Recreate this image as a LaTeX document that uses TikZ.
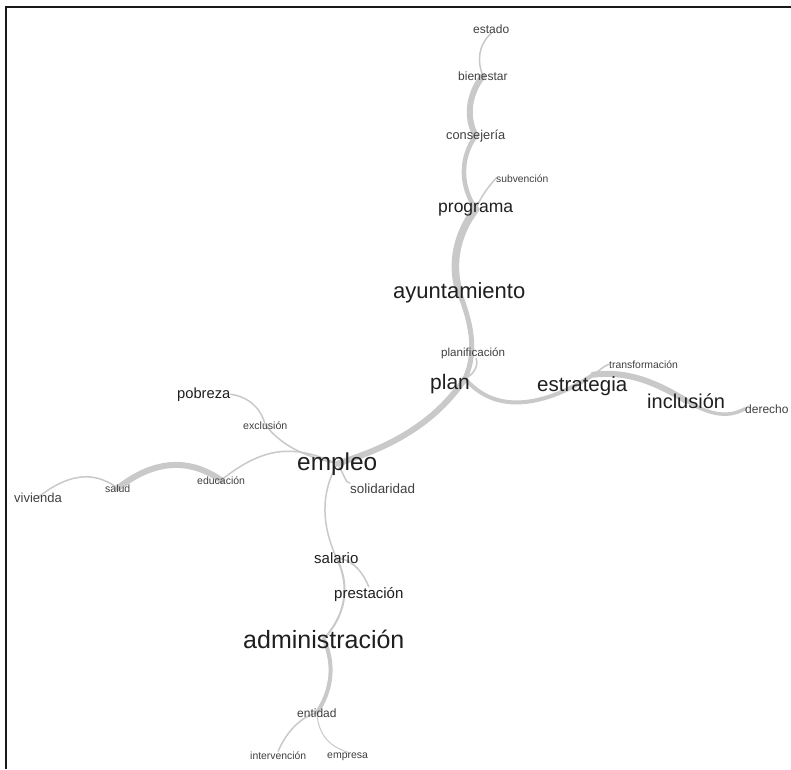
\documentclass[tikz,border=0pt]{standalone}
\usepackage{fontspec}
\setmainfont{Liberation Sans}
\usetikzlibrary{calc,backgrounds}
\begin{document}
\begin{tikzpicture}[x=1pt,y=-1pt,
  lbl/.style={anchor=base west,inner sep=0pt,text=black!88},
  sml/.style={text=black!75},
  fs/.style={font=\fontsize{#1}{#1}\selectfont},
  edg/.style={draw=black!21,line cap=round,line width=#1}]
\useasboundingbox (0,0) rectangle (791,769);
% labels
\node[lbl,sml,fs=12] (estado) at (473,33) {estado};
\node[lbl,sml,fs=12] (bienestar) at (458,80) {bienestar};
\node[lbl,sml,fs=12.8] (consejeria) at (446,139) {consejería};
\node[lbl,sml,fs=10.3] (subvencion) at (496,182) {subvención};
\node[lbl,fs=17.5] (programa) at (438,212) {programa};
\node[lbl,fs=22] (ayuntamiento) at (393,298) {ayuntamiento};
\node[lbl,sml,fs=11.6] (planificacion) at (441,356) {planificación};
\node[lbl,fs=21] (plan) at (430,389) {plan};
\node[lbl,fs=20.5] (estrategia) at (537,391) {estrategia};
\node[lbl,sml,fs=10.4] (transformacion) at (609,368) {transformación};
\node[lbl,fs=20] (inclusion) at (647,408) {inclusión};
\node[lbl,sml,fs=12] (derecho) at (745,413) {derecho};
\node[lbl,fs=14.7] (pobreza) at (177,398) {pobreza};
\node[lbl,sml,fs=10.6] (exclusion) at (243,429) {exclusión};
\node[lbl,fs=24.4] (empleo) at (297,470) {empleo};
\node[lbl,sml,fs=13.4] (solidaridad) at (350,493) {solidaridad};
\node[lbl,sml,fs=10.5] (educacion) at (197,484) {educación};
\node[lbl,sml,fs=10.5] (salud) at (105,492) {salud};
\node[lbl,sml,fs=13] (vivienda) at (14,502) {vivienda};
\node[lbl,fs=15] (salario) at (314,563) {salario};
\node[lbl,fs=15] (prestacion) at (334,598) {prestación};
\node[lbl,fs=25] (administracion) at (243,648) {administración};
\node[lbl,sml,fs=12] (entidad) at (297,717) {entidad};
\node[lbl,sml,fs=10.4] (intervencion) at (250,759) {intervención};
\node[lbl,sml,fs=10.5] (empresa) at (327,758) {empresa};
% connectors
\begin{scope}[on background layer]
\fill[white] (0,0) rectangle (791,769);
\draw[edg=1.5] (estado.south) .. controls (478,45) and (477,62) .. (bienestar.center);
\draw[edg=6] (bienestar.center) .. controls (468,95) and (466,118) .. (consejeria.center);
\draw[edg=4.5] (consejeria.center) .. controls (460,158) and (460,185) .. (programa.center);
\draw[edg=1.5] (subvencion.west) .. controls (487,188) and (481,197) .. (programa.center);
\draw[edg=7.5] (programa.center) .. controls (458,232) and (450,262) .. (ayuntamiento.center);
\draw[edg=5] (ayuntamiento.center) .. controls (470,320) and (478,350) .. ($(plan.center)+(15,-5)$);
\draw[edg=1.5] ($(planificacion.south)+(3,0)$) .. controls (479,366) and (473,375) .. ($(plan.center)+(15,-5)$);
\draw[edg=6] ($(plan.center)+(15,-5)$) .. controls (430,430) and (380,450) .. (empleo.center);
\draw[edg=4] ($(plan.center)+(15,-5)$) .. controls (500,420) and (555,400) .. ($(estrategia.center)+(11,-11)$);
\draw[edg=1.5] ($(estrategia.center)+(11,-11)$) .. controls (600,370) and (604,366) .. (transformacion.west);
\draw[edg=6] ($(estrategia.center)+(11,-11)$) .. controls (630,370) and (660,385) .. (inclusion.center);
\draw[edg=3.5] (inclusion.center) .. controls (705,412) and (725,420) .. (derecho.west);
\draw[edg=1.5] (pobreza.east) .. controls (250,397) and (262,410) .. (exclusion.center);
\draw[edg=1.5] (exclusion.center) .. controls (282,445) and (300,455) .. (empleo.center);
\draw[edg=1.5] (empleo.center) .. controls (295,445) and (265,445) .. (educacion.center);
\draw[edg=6] (educacion.center) .. controls (195,462) and (160,455) .. (salud.center);
\draw[edg=1.5] (salud.center) .. controls (100,475) and (75,468) .. (vivienda.center);
\draw[edg=1.5] (empleo.center) .. controls (345,475) and (345,483) .. (solidaridad.north west);
\draw[edg=1.5] (empleo.center) .. controls (320,495) and (322,525) .. (salario.center);
\draw[edg=2] (salario.center) .. controls (348,580) and (350,610) .. (administracion.center);
\draw[edg=1.5] (salario.center) .. controls (355,560) and (364,575) .. (prestacion.north);
\draw[edg=4] (administracion.center) .. controls (335,665) and (332,690) .. (entidad.center);
\draw[edg=1.5] (entidad.center) .. controls (298,718) and (285,735) .. (intervencion.north);
\draw[edg=1] (entidad.center) .. controls (318,730) and (325,745) .. (empresa.north);
\end{scope}
% frame
\draw[line width=2,black!90] (6,769) -- (6,7) -- (791,7);
\end{tikzpicture}
\end{document}
